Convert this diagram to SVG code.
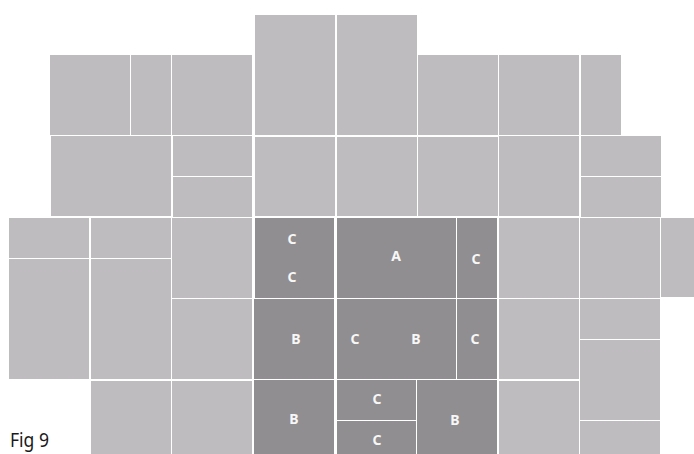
<svg xmlns="http://www.w3.org/2000/svg" width="694" height="454" viewBox="0 0 694 454">
<style>
.l{fill:#bebcbf}
.d{fill:#918e91}
.t{fill:#f7f7f7;font-family:"Noto Sans","Liberation Sans",sans-serif;font-weight:bold;font-size:14px;text-anchor:middle}
.cap{fill:#1a1a1a;font-family:"Noto Sans","Liberation Sans",sans-serif;font-size:20px}
</style>
<rect width="694" height="454" fill="#ffffff"/>
<g id="light">
<rect class="l" x="255" y="15" width="80" height="120"/>
<rect class="l" x="337" y="15" width="80" height="120"/>
<rect class="l" x="50" y="55" width="80" height="80"/>
<rect class="l" x="131" y="55" width="40" height="80"/>
<rect class="l" x="172" y="55" width="80" height="80"/>
<rect class="l" x="418" y="55" width="80" height="80"/>
<rect class="l" x="499" y="55" width="80" height="80"/>
<rect class="l" x="581" y="55" width="40" height="80"/>
<rect class="l" x="51" y="136" width="120" height="80"/>
<rect class="l" x="173" y="136" width="79" height="40"/>
<rect class="l" x="173" y="177" width="79" height="40"/>
<rect class="l" x="255" y="137" width="80" height="79"/>
<rect class="l" x="337" y="137" width="80" height="79"/>
<rect class="l" x="418" y="137" width="80" height="79"/>
<rect class="l" x="499" y="136" width="80" height="80"/>
<rect class="l" x="581" y="136" width="80" height="40"/>
<rect class="l" x="581" y="177" width="80" height="40"/>
<rect class="l" x="9" y="218" width="80" height="40"/>
<rect class="l" x="9" y="259" width="80" height="120"/>
<rect class="l" x="91" y="218" width="80" height="40"/>
<rect class="l" x="91" y="259" width="80" height="120"/>
<rect class="l" x="172" y="218" width="80" height="80"/>
<rect class="l" x="172" y="299" width="80" height="80"/>
<rect class="l" x="499" y="218" width="80" height="80"/>
<rect class="l" x="499" y="299" width="80" height="80"/>
<rect class="l" x="580" y="218" width="80" height="80"/>
<rect class="l" x="580" y="299" width="80" height="40"/>
<rect class="l" x="580" y="340" width="80" height="80"/>
<rect class="l" x="661" y="218" width="33" height="79"/>
<rect class="l" x="91" y="381" width="80" height="73"/>
<rect class="l" x="172" y="381" width="80" height="73"/>
<rect class="l" x="499" y="381" width="80" height="73"/>
<rect class="l" x="580" y="421" width="80" height="33"/>
</g>
<g id="d1"><rect class="d" x="255" y="218" width="79" height="80"/><text class="t" x="292" y="244">C</text><text class="t" x="292" y="282">C</text></g>
<g id="d2"><rect class="d" x="254" y="299" width="80" height="80"/><text class="t" x="296" y="344">B</text></g>
<g id="d3"><rect class="d" x="337" y="218" width="119" height="80"/><text class="t" x="396" y="261">A</text></g>
<g id="d4"><rect class="d" x="457" y="218" width="40" height="80"/><text class="t" x="476" y="264">C</text></g>
<g id="d5"><rect class="d" x="337" y="299" width="119" height="80"/><text class="t" x="355" y="344">C</text><text class="t" x="416" y="344">B</text></g>
<g id="d6"><rect class="d" x="457" y="299" width="40" height="80"/><text class="t" x="475" y="344">C</text></g>
<g id="d7"><rect class="d" x="254" y="380" width="80" height="74"/><text class="t" x="294" y="424">B</text></g>
<g id="d8"><rect class="d" x="337" y="380" width="79" height="40"/><text class="t" x="377" y="404">C</text></g>
<g id="d9"><rect class="d" x="337" y="421" width="79" height="33"/><text class="t" x="377" y="445">C</text></g>
<g id="d10"><rect class="d" x="417" y="380" width="80" height="74"/><text class="t" x="455" y="425">B</text></g>
<text class="cap" x="10" y="447" textLength="39" lengthAdjust="spacingAndGlyphs">Fig 9</text>
</svg>
